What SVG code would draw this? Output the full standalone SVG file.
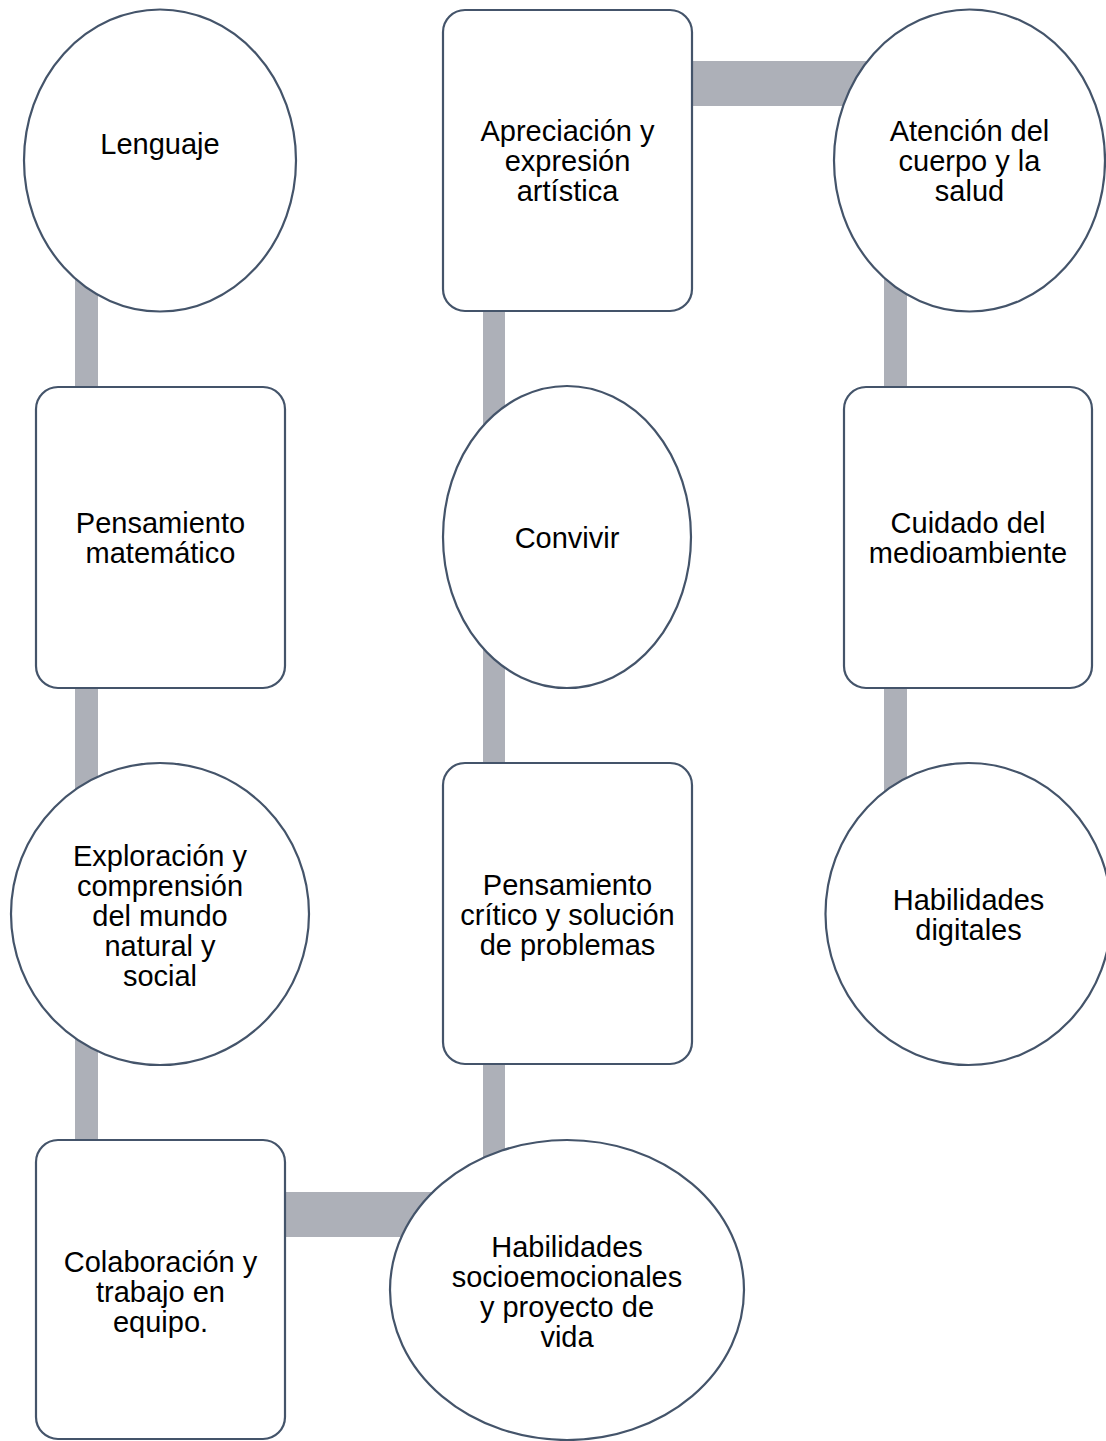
<svg xmlns="http://www.w3.org/2000/svg" width="1106" height="1441" viewBox="0 0 1106 1441">
<style>
.bg{fill:#ffffff}
.conn{fill:#ADB0B8;stroke:none}
.node{fill:#ffffff;stroke:#44546A;stroke-width:2.2}
.lbl{font-family:"Liberation Sans",Arial,sans-serif;font-size:29px;fill:#000000;text-anchor:middle}
</style>
<rect class="bg" x="0" y="0" width="1106" height="1441"/>
<g id="connectors">
<rect id="c1" class="conn" x="75" y="160" width="23" height="377"/>
<rect id="c2" class="conn" x="75" y="537" width="23" height="377"/>
<rect id="c3" class="conn" x="75" y="914" width="23" height="376"/>
<rect id="c4" class="conn" x="160" y="1192" width="407" height="45"/>
<rect id="c5" class="conn" x="483" y="914" width="22" height="376"/>
<rect id="c6" class="conn" x="483" y="537" width="22" height="377"/>
<rect id="c7" class="conn" x="483" y="160" width="22" height="377"/>
<rect id="c8" class="conn" x="567" y="61" width="402" height="45"/>
<rect id="c9" class="conn" x="884" y="160" width="23" height="377"/>
<rect id="c10" class="conn" x="884" y="537" width="23" height="377"/>
</g>
<g id="n-lenguaje">
<ellipse class="node" cx="160" cy="160.5" rx="136" ry="151"/>
<text class="lbl" x="160" y="154">Lenguaje</text>
</g>
<g id="n-pensamiento-matematico">
<rect class="node" x="36" y="387" width="249" height="301" rx="22" ry="22"/>
<text class="lbl" x="160.5" y="533">Pensamiento</text>
<text class="lbl" x="160.5" y="563">matemático</text>
</g>
<g id="n-exploracion">
<ellipse class="node" cx="160" cy="914" rx="149" ry="151"/>
<text class="lbl" x="160" y="866">Exploración y</text>
<text class="lbl" x="160" y="896">comprensión</text>
<text class="lbl" x="160" y="926">del mundo</text>
<text class="lbl" x="160" y="956">natural y</text>
<text class="lbl" x="160" y="986">social</text>
</g>
<g id="n-colaboracion">
<rect class="node" x="36" y="1140" width="249" height="299" rx="22" ry="22"/>
<text class="lbl" x="160.5" y="1272">Colaboración y</text>
<text class="lbl" x="160.5" y="1302">trabajo en</text>
<text class="lbl" x="160.5" y="1332">equipo.</text>
</g>
<g id="n-habilidades-socioemocionales">
<ellipse class="node" cx="567" cy="1290" rx="177" ry="150"/>
<text class="lbl" x="567" y="1257">Habilidades</text>
<text class="lbl" x="567" y="1287">socioemocionales</text>
<text class="lbl" x="567" y="1317">y proyecto de</text>
<text class="lbl" x="567" y="1347">vida</text>
</g>
<g id="n-pensamiento-critico">
<rect class="node" x="443" y="763" width="249" height="301" rx="22" ry="22"/>
<text class="lbl" x="567.5" y="895">Pensamiento</text>
<text class="lbl" x="567.5" y="925">crítico y solución</text>
<text class="lbl" x="567.5" y="955">de problemas</text>
</g>
<g id="n-convivir">
<ellipse class="node" cx="567" cy="537" rx="124" ry="151"/>
<text class="lbl" x="567" y="548">Convivir</text>
</g>
<g id="n-apreciacion">
<rect class="node" x="443" y="10" width="249" height="301" rx="22" ry="22"/>
<text class="lbl" x="567.5" y="141">Apreciación y</text>
<text class="lbl" x="567.5" y="171">expresión</text>
<text class="lbl" x="567.5" y="201">artística</text>
</g>
<g id="n-atencion">
<ellipse class="node" cx="969.5" cy="160.5" rx="135.5" ry="151"/>
<text class="lbl" x="969.5" y="141">Atención del</text>
<text class="lbl" x="969.5" y="171">cuerpo y la</text>
<text class="lbl" x="969.5" y="201">salud</text>
</g>
<g id="n-cuidado">
<rect class="node" x="844" y="387" width="248" height="301" rx="22" ry="22"/>
<text class="lbl" x="968" y="533">Cuidado del</text>
<text class="lbl" x="968" y="563">medioambiente</text>
</g>
<g id="n-habilidades-digitales">
<ellipse class="node" cx="968.5" cy="914" rx="143" ry="151"/>
<text class="lbl" x="968.5" y="910">Habilidades</text>
<text class="lbl" x="968.5" y="940">digitales</text>
</g>
</svg>
